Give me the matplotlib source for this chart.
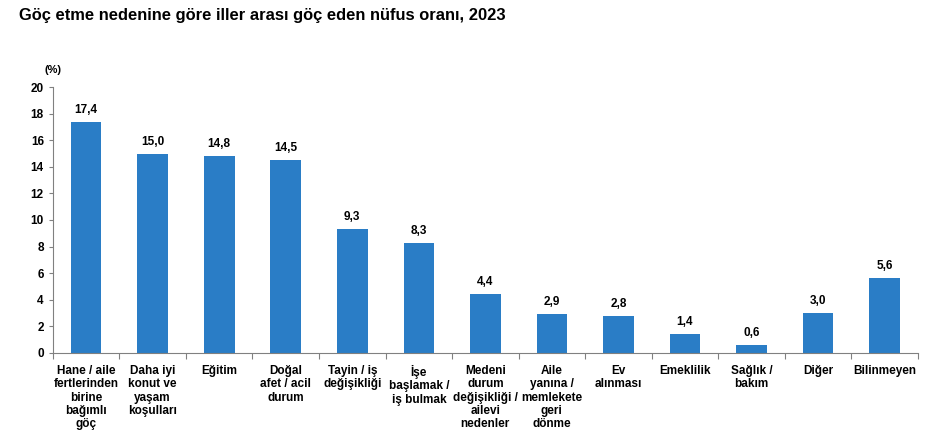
import numpy as np
import matplotlib.pyplot as plt

plt.rcParams['font.family'] = ['Liberation Sans', 'DejaVu Sans']

categories = ["Hane / aile\nfertlerinden\nbirine\nbağımlı\ngöç",
              "Daha iyi\nkonut ve\nyaşam\nkoşulları",
              "Eğitim",
              "Doğal\nafet / acil\ndurum",
              "Tayin / iş\ndeğişikliği",
              "İşe\nbaşlamak /\niş bulmak",
              "Medeni\ndurum\ndeğişikliği /\nailevi\nnedenler",
              "Aile\nyanına /\nmemlekete\ngeri\ndönme",
              "Ev\nalınması",
              "Emeklilik",
              "Sağlık /\nbakım",
              "Diğer",
              "Bilinmeyen"]
values = [17.4, 15.0, 14.8, 14.5, 9.3, 8.3, 4.4, 2.9, 2.8, 1.4, 0.6, 3.0, 5.6]

fig = plt.figure(figsize=(9.28, 4.4), dpi=100)
ax = fig.add_axes([0.057, 0.198, 0.932, 0.604])

x = np.arange(len(values))
bars = ax.bar(x, values, width=0.46, color='#2A7DC6', zorder=2)
for xi, v in zip(x, values):
    ax.text(xi, v + 0.45, f"{v:.1f}".replace('.', ','), ha='center', va='bottom',
            fontsize=8.5, fontweight='bold')

ax.set_xlim(-0.5, len(values) - 0.5)
ax.set_ylim(0, 20)
ax.set_yticks(range(0, 21, 2))
ax.tick_params(axis='y', labelsize=8.5, length=3, width=0.8, colors='#808080', labelcolor='black')
for lab in ax.get_yticklabels():
    lab.set_fontweight('bold')

ax.set_xticks(x)
ax.set_xticklabels(categories, fontsize=8.5, fontweight='bold', linespacing=1.12, va='top')
ax.tick_params(axis='x', which='major', length=0, pad=9)
ax.set_xticks(np.arange(-0.5, len(values), 1), minor=True)
ax.tick_params(axis='x', which='minor', length=4, width=0.8, colors='#808080')

for s in ['top', 'right']:
    ax.spines[s].set_visible(False)
ax.spines['left'].set_color('#808080')
ax.spines['bottom'].set_color('#808080')

fig.text(0.048, 0.835, "(%)", fontsize=8, fontweight='bold')
fig.text(0.02, 0.955, "Göç etme nedenine göre iller arası göç eden nüfus oranı, 2023",
         fontsize=11.9, fontweight='bold')

fig.savefig('out.png', dpi=100)
